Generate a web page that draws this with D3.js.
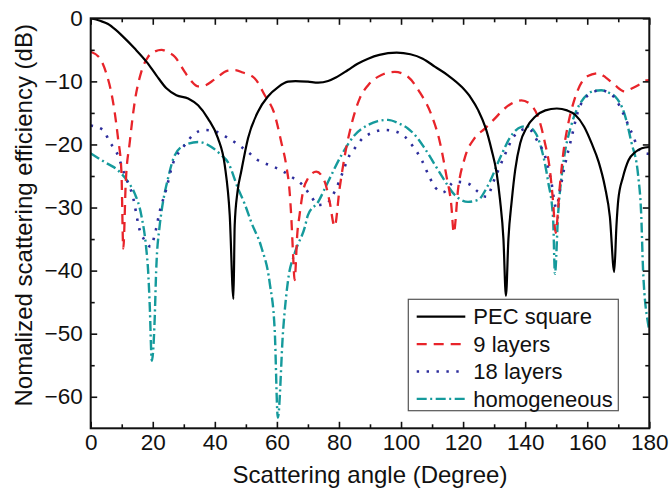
<!DOCTYPE html>
<html>
<head>
<meta charset="utf-8">
<script src="https://cdn.jsdelivr.net/npm/d3@7"></script>
<style>
  body { margin: 0; background: #fff; }
  text { font-family: "Liberation Sans", Arial, sans-serif; }
</style>
</head>
<body>
<div id="graph"></div>
<script>
// angle (deg), value (dB) pairs
var pecData = [[0,0],[3,-0.4],[5.6,-0.9],[8,-1.8],[10,-2.7],[14.2,-4.8],[18,-6.9],[21.1,-9],[24.4,-11.1],[27.6,-12.2],[31.4,-12.7],[34.6,-13.8],[37.8,-15.9],[41,-19],[43.2,-23.3],[44.8,-31.2],[46,-44.5],[46.4,-32.8],[47.3,-27.5],[48.5,-24.3],[50.7,-19],[53.9,-14.8],[57.1,-12.4],[60.4,-10.9],[63.6,-10.05],[66,-9.95],[70,-10.05],[73.3,-10.2],[76.5,-9.95],[79,-9.4],[82.9,-8.2],[86,-7.2],[89.4,-6.4],[93,-5.8],[98.6,-5.45],[103,-5.7],[107,-6.4],[111,-7.7],[115,-9.0],[119.6,-10.9],[122.5,-12.6],[124.9,-14.6],[127.2,-17.3],[129.2,-20.9],[130.8,-24.5],[131.9,-28.8],[133,-35],[133.8,-44],[134.6,-35],[135.7,-28.8],[136.8,-24],[138.4,-19.8],[140.5,-17.3],[143.2,-15.6],[146.5,-14.6],[150.2,-14.3],[153.5,-14.6],[156.1,-15.3],[159,-17.2],[161.4,-19.8],[163.7,-22.8],[165.7,-26.7],[167.3,-31.5],[168.7,-40.2],[169.4,-33],[170,-28.8],[171.5,-25.2],[173.3,-22.5],[175.5,-21.2],[177.6,-20.6],[180,-20.4]]

var layers9 = [[0,-5.3],[2.9,-6.3],[5,-8.7],[6.6,-11.7],[7.7,-14.8],[8.8,-19],[9.9,-24.3],[10.5,-36.5],[11.3,-26],[12.6,-19.6],[14.2,-13.2],[16.3,-8.5],[18.5,-6.1],[20.5,-5.3],[22.8,-5],[25,-5.4],[27.1,-6.1],[30.3,-8.5],[32.5,-10],[34.6,-10.8],[36.5,-10.7],[39.9,-9.7],[44.2,-8.3],[46.5,-8.2],[49,-8.6],[52.8,-9.5],[56.1,-12.2],[59.3,-15.3],[61.4,-19.6],[63,-23.3],[64.1,-27.5],[64.6,-31.2],[65.2,-37.3],[65.7,-41.5],[66.6,-34],[67.3,-31.2],[68.4,-27.5],[70,-25.4],[72.7,-24.3],[75.4,-25.9],[77,-29.1],[78.6,-33],[80.2,-27],[81.9,-21.7],[84,-16.9],[86.7,-12.7],[89.4,-10.6],[93.7,-9],[98,-8.5],[102.3,-9.3],[106,-11.7],[109.8,-15.3],[112.5,-19.6],[114.6,-24.9],[116.2,-29.6],[117,-34],[118.4,-27],[120.5,-22.2],[123.7,-19],[127,-17.5],[130.2,-15.9],[133.4,-14.3],[136,-13.4],[138.8,-13],[142,-13.8],[144.7,-16.4],[146.3,-19.6],[147.9,-23.8],[149,-29.1],[149.8,-34],[151.1,-27],[152.2,-21.7],[153.8,-16.9],[156,-12.7],[159.2,-9.5],[161.5,-8.9],[163.5,-8.7],[166,-9.4],[168.9,-10.6],[172.1,-11.6],[174,-11.2],[176.4,-10.6],[178.6,-9.9],[180,-9.8]]

var layers18 = [[0,-17],[4,-17.7],[6.1,-19.6],[8.3,-21.2],[11,-24.9],[13.6,-28.3],[15.8,-33.6],[17.4,-35.2],[19.3,-36.2],[20.6,-34.4],[22.2,-30.7],[24.4,-27],[26,-23.8],[30.3,-20.1],[33,-18.5],[36.7,-17.7],[40.5,-18],[44,-18.9],[46.9,-19.8],[50.7,-21.2],[53.9,-22.5],[57.7,-23.3],[61.4,-24.1],[64.6,-25.1],[68.4,-26.5],[71.1,-28.3],[73.3,-29.6],[75.9,-29.4],[78.6,-27.5],[81.3,-24.3],[82.9,-22.2],[85.1,-20.6],[87.7,-19],[90.5,-18.2],[94.8,-17.7],[98,-17.9],[101.3,-18.8],[104,-20.4],[106.7,-22.5],[109,-25],[111,-26.8],[113.5,-27.6],[117.3,-25.9],[121.6,-26.2],[124.8,-27.5],[127.5,-28.3],[130.2,-25.4],[133.4,-21.7],[136,-19],[138.9,-17.7],[141,-17.5],[144.1,-19.6],[146.3,-21.7],[148.4,-25.9],[150,-30],[151.3,-27],[152.8,-23.3],[154.9,-19],[157,-14.8],[160.3,-12.2],[164.5,-11.4],[166.5,-11.7],[169,-12.7],[171.5,-15],[174.2,-18],[177.4,-21.2],[180,-21.5]]

var homogeneous = [[0,-21.4],[4.5,-22.8],[8.8,-24.1],[12,-25.9],[14.2,-27.8],[16.3,-31.2],[17.9,-36.5],[18.5,-40],[19,-45.2],[19.7,-54.3],[20.6,-47.9],[21.1,-40],[22.2,-33],[22.8,-30.7],[24.9,-25.4],[27.1,-21.7],[30.3,-20.1],[34.6,-19.6],[38.9,-20.4],[42.1,-21.7],[44.2,-22.8],[47.5,-27],[49.6,-29.4],[51.8,-32.4],[55,-36.3],[57.7,-42],[59.3,-49.5],[60.3,-63.3],[62,-49.5],[63.6,-41.5],[65.7,-37.3],[69,-33.1],[70,-31.2],[73.3,-29.1],[76.5,-25.9],[80.8,-21.7],[85.1,-18.5],[89.4,-16.9],[92.5,-16.3],[95.8,-16.1],[99,-16.6],[102.3,-17.5],[105,-18.8],[107.6,-20.6],[113,-24.9],[117.3,-28],[121.6,-29.1],[124.8,-28.8],[128,-26.5],[132.3,-21.7],[135,-19],[138.8,-17.2],[140.4,-17.1],[143.1,-18],[145.2,-20.6],[147.4,-25.9],[149,-31.7],[149.6,-40.5],[150.6,-31.2],[152.2,-23.3],[154.9,-16.9],[158.1,-13.2],[160.5,-11.9],[162.4,-11.5],[164.5,-11.4],[167,-11.8],[169,-12.4],[172.1,-15.3],[174.2,-19.6],[176.4,-24.9],[177.4,-31.2],[178,-40],[179.6,-48.4],[180,-49.5]]

var seriesNames = ["PEC square", "9 layers", "18 layers", "homogeneous"]
var xTicks = [0, 20, 40, 60, 80, 100, 120, 140, 160, 180]
var yTicks = [0, -10, -20, -30, -40, -50, -60]

var styles = [
  {color: "#000000", dash: null, w: 2.2},
  {color: "#e8242a", dash: "10,7", w: 2.3},
  {color: "#2d2d9c", dash: "2.4,7.5", w: 2.6},
  {color: "#159a9c", dash: "10,3.5,2,3.5", w: 2.4}
]

var W = 670, H = 495
var margin = {top: 18.3, right: 20.7, bottom: 66.7, left: 90.7}
var width = W - margin.left - margin.right
var height = H - margin.top - margin.bottom

var xScale = d3.scaleLinear().domain([0, 180]).range([0, width])
var yScale = d3.scaleLinear().domain([-65, 0]).range([height, 0])

var svg = d3.select("#graph").append("svg")
    .attr("width", W)
    .attr("height", H)
  .append("g")
    .attr("transform", "translate(" + margin.left + "," + margin.top + ")")

var line = d3.line()
    .x(function(d) { return xScale(d[0]) })
    .y(function(d) { return yScale(d[1]) })
    .curve(d3.curveMonotoneX)

svg.append("clipPath").attr("id", "clip")
  .append("rect").attr("width", width).attr("height", height)

var allSeries = [pecData, layers9, layers18, homogeneous]
// draw back to front so the black curve sits on top
for (var i = allSeries.length - 1; i >= 0; --i) {
  svg.append("path")
      .datum(allSeries[i])
      .attr("clip-path", "url(#clip)")
      .attr("fill", "none")
      .attr("stroke", styles[i].color)
      .attr("stroke-width", styles[i].w)
      .attr("stroke-dasharray", styles[i].dash)
      .attr("d", line)
}

// axes, ticks pointing inward
function styleAxis(g) {
  g.select(".domain").remove()
  g.selectAll(".tick line").attr("stroke", "#111").attr("stroke-width", 1.6)
  g.selectAll(".tick text").attr("font-size", "22.5px").attr("fill", "#111")
}

var xMinor = d3.range(10, 180, 20)
var yMinor = d3.range(-5, -65, -10)

svg.append("g")
    .attr("transform", "translate(0," + height + ")")
    .call(d3.axisBottom(xScale).tickValues(xTicks).tickSizeInner(-6.5).tickSizeOuter(0).tickPadding(4).tickFormat(d3.format("d")))
    .call(styleAxis)
    .selectAll(".tick text").attr("dy", "0.8em")

svg.append("g")
    .attr("transform", "translate(0," + height + ")")
    .call(d3.axisBottom(xScale).tickValues(xMinor).tickSizeInner(-4).tickSizeOuter(0).tickFormat(""))
    .call(styleAxis)

svg.append("g")
    .call(d3.axisTop(xScale).tickValues(xTicks).tickSizeInner(-6.5).tickSizeOuter(0).tickFormat(""))
    .call(styleAxis)
svg.append("g")
    .call(d3.axisTop(xScale).tickValues(xMinor).tickSizeInner(-4).tickSizeOuter(0).tickFormat(""))
    .call(styleAxis)

svg.append("g")
    .call(d3.axisLeft(yScale).tickValues(yTicks).tickSizeInner(-6.5).tickSizeOuter(0).tickPadding(8).tickFormat(d3.format("d")))
    .call(styleAxis)
svg.append("g")
    .call(d3.axisLeft(yScale).tickValues(yMinor).tickSizeInner(-4).tickSizeOuter(0).tickFormat(""))
    .call(styleAxis)

svg.append("g")
    .attr("transform", "translate(" + width + ",0)")
    .call(d3.axisRight(yScale).tickValues(yTicks).tickSizeInner(-6.5).tickSizeOuter(0).tickFormat(""))
    .call(styleAxis)
svg.append("g")
    .attr("transform", "translate(" + width + ",0)")
    .call(d3.axisRight(yScale).tickValues(yMinor).tickSizeInner(-4).tickSizeOuter(0).tickFormat(""))
    .call(styleAxis)

svg.append("rect")
    .attr("width", width)
    .attr("height", height)
    .attr("fill", "none")
    .attr("stroke", "#111")
    .attr("stroke-width", 2)

// axis titles
svg.append("text")
    .attr("x", width / 2)
    .attr("y", height + 55)
    .attr("text-anchor", "middle")
    .attr("font-size", "24px")
    .attr("fill", "#111")
    .text("Scattering angle (Degree)")

svg.append("text")
    .attr("transform", "translate(" + (-59) + "," + (height / 2 - 8) + ") rotate(-90)")
    .attr("text-anchor", "middle")
    .attr("font-size", "24px")
    .attr("fill", "#111")
    .text("Nomalized scattering efficiency (dB)")

// legend
var legend = svg.append("g")
    .attr("transform", "translate(" + (408.3 - margin.left) + "," + (299.3 - margin.top) + ")")

legend.append("rect")
    .attr("width", 210)
    .attr("height", 111.4)
    .attr("fill", "#fff")
    .attr("stroke", "#555")
    .attr("stroke-width", 1.2)

seriesNames.forEach(function(name, i) {
  var yy = 17.4 + i * 27.4
  legend.append("line")
      .attr("x1", 8.4).attr("x2", 57)
      .attr("y1", yy).attr("y2", yy)
      .attr("stroke", styles[i].color)
      .attr("stroke-width", styles[i].w)
      .attr("stroke-dasharray", styles[i].dash)
  legend.append("text")
      .attr("x", 65)
      .attr("y", yy)
      .attr("dy", "0.35em")
      .attr("font-size", "22px")
      .attr("fill", "#111")
      .text(name)
})
</script>
</body>
</html>
